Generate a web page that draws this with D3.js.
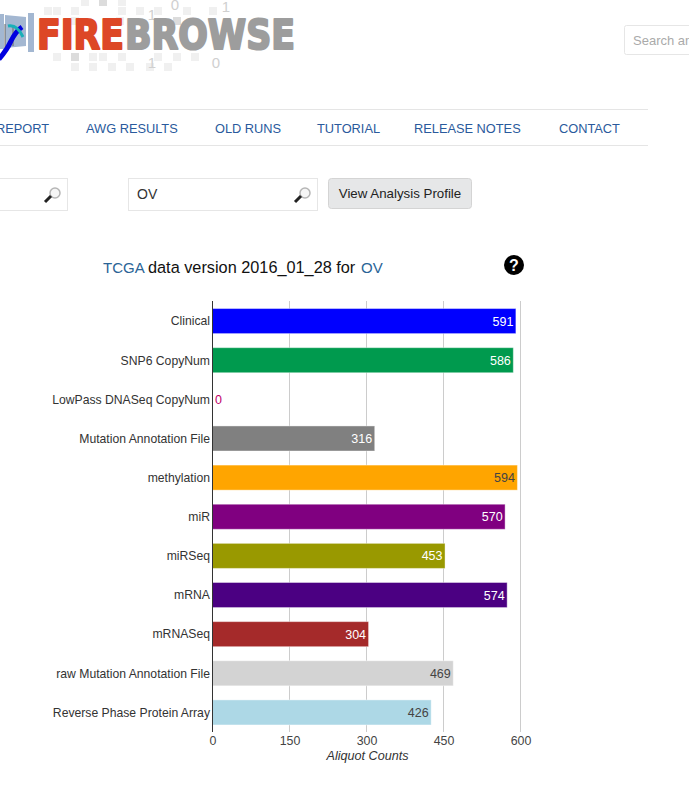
<!DOCTYPE html>
<html>
<head>
<meta charset="utf-8">
<style>
html, body { margin: 0; padding: 0; background: #fff; overflow: hidden; }
svg { display: block; font-family: "Liberation Sans", Arial, sans-serif; }
.nav { fill: #2a5a9c; font-size: 12.8px; }
.bar-label { font-size: 12.2px; fill: #333; text-anchor: end; }
.axis text { font-size: 12.4px; fill: #444; }
</style>
</head>
<body>
<script src="https://cdnjs.cloudflare.com/ajax/libs/d3/7.8.5/d3.min.js"></script>
<script>
var categories = ['Clinical', 'SNP6 CopyNum', 'LowPass DNASeq CopyNum', 'Mutation Annotation File', 'methylation', 'miR', 'miRSeq', 'mRNA', 'mRNASeq', 'raw Mutation Annotation File', 'Reverse Phase Protein Array'];
var counts = [591, 586, 0, 316, 594, 570, 453, 574, 304, 469, 426];
var barColors = ['#0000ff', '#009a4e', '#c0006a', '#808080', '#ffa500', '#800080', '#999900', '#4b0082', '#a52a2a', '#d3d3d3', '#add8e6'];
var labelColors = ['#fff', '#fff', '#c0006a', '#fff', '#444', '#fff', '#fff', '#fff', '#fff', '#444', '#444'];
var xTicks = [0, 150, 300, 450, 600];
var navItems = ['REPORT', 'AWG RESULTS', 'OLD RUNS', 'TUTORIAL', 'RELEASE NOTES', 'CONTACT'];
var navX = [-4, 86, 215, 317, 414, 559];

var svg = d3.select('body').append('svg').attr('width', 689).attr('height', 804);

// logo backdrop squares: x, y, shade
var checker = [[48,11,0],[57,11,0],[75,11,0],[122,11,0],[140,11,0],[158,11,0],[187,11,0],[213,11,0],[85,2,0],[103,2,1],[122,2,0],
	[120,21,0],[177,21,1],[75,21,0],[57,57,0],[75,57,1],[93,57,0],[103,57,0],[122,57,0],[158,57,0],[177,57,0],[195,57,0],
	[75,67,0],[93,67,0],[112,67,0],[130,67,0],[150,67,0],[168,67,0]];
svg.append('g').selectAll('rect').data(checker).enter().append('rect')
	.attr('x', d => d[0] - 4)
	.attr('y', d => d[1] - 4)
	.attr('width', 8).attr('height', 8)
	.attr('fill', d => d[2] ? '#dcdcdc' : '#f0f0f0');
var digits = [['0', 175, 10], ['1', 226, 12], ['1', 152, 20], ['1', 152, 68], ['0', 216, 68]];
svg.append('g').selectAll('text').data(digits).enter().append('text')
	.attr('x', d => d[1]).attr('y', d => d[2]).attr('font-size', 15).attr('text-anchor', 'middle').attr('fill', '#d0d0d0').text(d => d[0]);

// book and curve at the left of the logo
svg.append('path').attr('d', 'M0 14 L4 14 L4 49 L0 49 Z M5 15 L26 17 L26 46 L5 48 Z').attr('fill', '#a3b7d1');
svg.append('rect').attr('x', 28).attr('y', 13).attr('width', 6).attr('height', 39).attr('fill', '#a3b7d1');
svg.append('path').attr('d', 'M5 24 L5 48 M13 26 L13 46').attr('stroke', '#666').attr('stroke-width', 1);
svg.append('path').attr('d', 'M-1 59 Q7 50 11 41 Q16 31 22 27').attr('fill', 'none').attr('stroke', '#0000e0').attr('stroke-width', 5);
svg.append('path').attr('d', 'M8 26 Q17 24 23 37').attr('fill', 'none').attr('stroke', '#19b0b8').attr('stroke-width', 3);

var logo = svg.append('g').attr('font-family', '"DejaVu Sans", sans-serif').attr('font-weight', 'bold').attr('font-size', 41).attr('stroke-width', 2.2).attr('stroke-linejoin', 'round');
logo.append('text').attr('x', 37).attr('y', 49).attr('textLength', 87).attr('lengthAdjust', 'spacingAndGlyphs').attr('fill', '#dd4726').attr('stroke', '#dd4726').text('FIRE');
logo.append('text').attr('x', 125).attr('y', 49).attr('textLength', 170).attr('lengthAdjust', 'spacingAndGlyphs').attr('fill', '#9d9d9d').attr('stroke', '#9d9d9d').text('BROWSE');

// top right search box
svg.append('rect').attr('x', 624.5).attr('y', 25.5).attr('width', 80).attr('height', 29).attr('rx', 2).attr('fill', '#fff').attr('stroke', '#e6e6e6');
svg.append('text').attr('x', 633).attr('y', 45).attr('font-size', 13).attr('fill', '#aaa').text('Search an');

// nav
svg.append('line').attr('x1', 0).attr('x2', 648).attr('y1', 109.5).attr('y2', 109.5).attr('stroke', '#e5e5e5');
svg.append('line').attr('x1', 0).attr('x2', 648).attr('y1', 145.5).attr('y2', 145.5).attr('stroke', '#e5e5e5');
svg.append('g').selectAll('text').data(navItems).enter().append('text')
	.attr('class', 'nav')
	.attr('x', (d, i) => navX[i])
	.attr('y', 133)
	.text(d => d);

function magnifier(x, y){
	var g = svg.append('g').attr('transform', 'translate(' + x + ',' + y + ')');
	g.append('circle').attr('cx', 11).attr('cy', -10).attr('r', 5).attr('fill', '#f6f6f6').attr('stroke', '#b5b5b5').attr('stroke-width', 1.5);
	g.append('line').attr('x1', 1).attr('y1', -1).attr('x2', 7).attr('y2', -7).attr('stroke', '#222').attr('stroke-width', 3);
}
// search fields
svg.append('rect').attr('x', -10).attr('y', 178.5).attr('width', 77.5).attr('height', 32).attr('fill', '#fff').attr('stroke', '#e6e6e6');
magnifier(44, 203);
svg.append('rect').attr('x', 128.5).attr('y', 178.5).attr('width', 189).attr('height', 32).attr('fill', '#fff').attr('stroke', '#e6e6e6');
svg.append('text').attr('x', 137).attr('y', 199).attr('font-size', 14).attr('fill', '#333').text('OV');
magnifier(294, 203);
svg.append('rect').attr('x', 328.5).attr('y', 178.5).attr('width', 143).attr('height', 30).attr('rx', 3).attr('fill', '#e6e7e8').attr('stroke', '#d4d4d4');
svg.append('text').attr('x', 400).attr('y', 198).attr('font-size', 13.3).attr('text-anchor', 'middle').attr('fill', '#222').text('View Analysis Profile');

// title
var title = svg.append('text').attr('y', 273).attr('font-size', 16.3).attr('fill', '#111');
title.append('tspan').attr('x', 103).attr('font-size', 15).attr('fill', '#2a6496').text('TCGA');
title.append('tspan').attr('x', 148).text('data version 2016_01_28 for');
title.append('tspan').attr('x', 361).attr('font-size', 15).attr('fill', '#2a6496').text('OV');
svg.append('circle').attr('cx', 514).attr('cy', 265).attr('r', 10).attr('fill', '#000');
svg.append('text').attr('x', 514).attr('y', 271).attr('font-size', 16).attr('font-weight', 'bold').attr('text-anchor', 'middle').attr('fill', '#fff').text('?');

// chart
var xScale = d3.scaleLinear().domain([0, 600]).range([212.5, 520.5]);
var yScale = d3.scaleBand().domain(categories).range([301.5, 732]).paddingInner(0.36).paddingOuter(0.18);

var grid = svg.append('g');
grid.selectAll('line').data(xTicks.slice(1)).enter().append('line')
	.attr('x1', d => xScale(d)).attr('x2', d => xScale(d))
	.attr('y1', 301).attr('y2', 732)
	.attr('stroke', '#ccc');

svg.append('g').selectAll('rect').data(counts).enter().append('rect')
	.attr('x', xScale(0))
	.attr('y', (d, i) => yScale(categories[i]))
	.attr('width', d => xScale(d) - xScale(0))
	.attr('height', yScale.bandwidth())
	.attr('fill', (d, i) => barColors[i])
	.attr('stroke', '#fff').attr('stroke-opacity', 0.4).attr('stroke-width', 1);

svg.append('g').selectAll('text').data(categories).enter().append('text')
	.attr('class', 'bar-label')
	.attr('x', 210)
	.attr('y', d => yScale(d) + yScale.bandwidth() / 2 + 4.3)
	.text(d => d);

svg.append('g').selectAll('text').data(counts).enter().append('text')
	.attr('font-size', 12.5)
	.attr('x', d => d === 0 ? xScale(0) + 2.5 : xScale(d) - 2.5)
	.attr('y', (d, i) => yScale(categories[i]) + yScale.bandwidth() / 2 + 4.5)
	.attr('text-anchor', d => d === 0 ? 'start' : 'end')
	.attr('fill', (d, i) => labelColors[i])
	.text(d => d);

var xAxis = d3.axisBottom(xScale).tickValues(xTicks).tickSize(0).tickPadding(4);
var axisG = svg.append('g').attr('class', 'axis').attr('transform', 'translate(0,732)').call(xAxis);
axisG.select('.domain').remove();
svg.append('line').attr('x1', 212.5).attr('x2', 212.5).attr('y1', 301).attr('y2', 732).attr('stroke', '#333');

svg.append('text').attr('x', 367.5).attr('y', 760).attr('font-size', 12.6).attr('font-style', 'italic').attr('text-anchor', 'middle').attr('fill', '#333').text('Aliquot Counts');
</script>
</body>
</html>
